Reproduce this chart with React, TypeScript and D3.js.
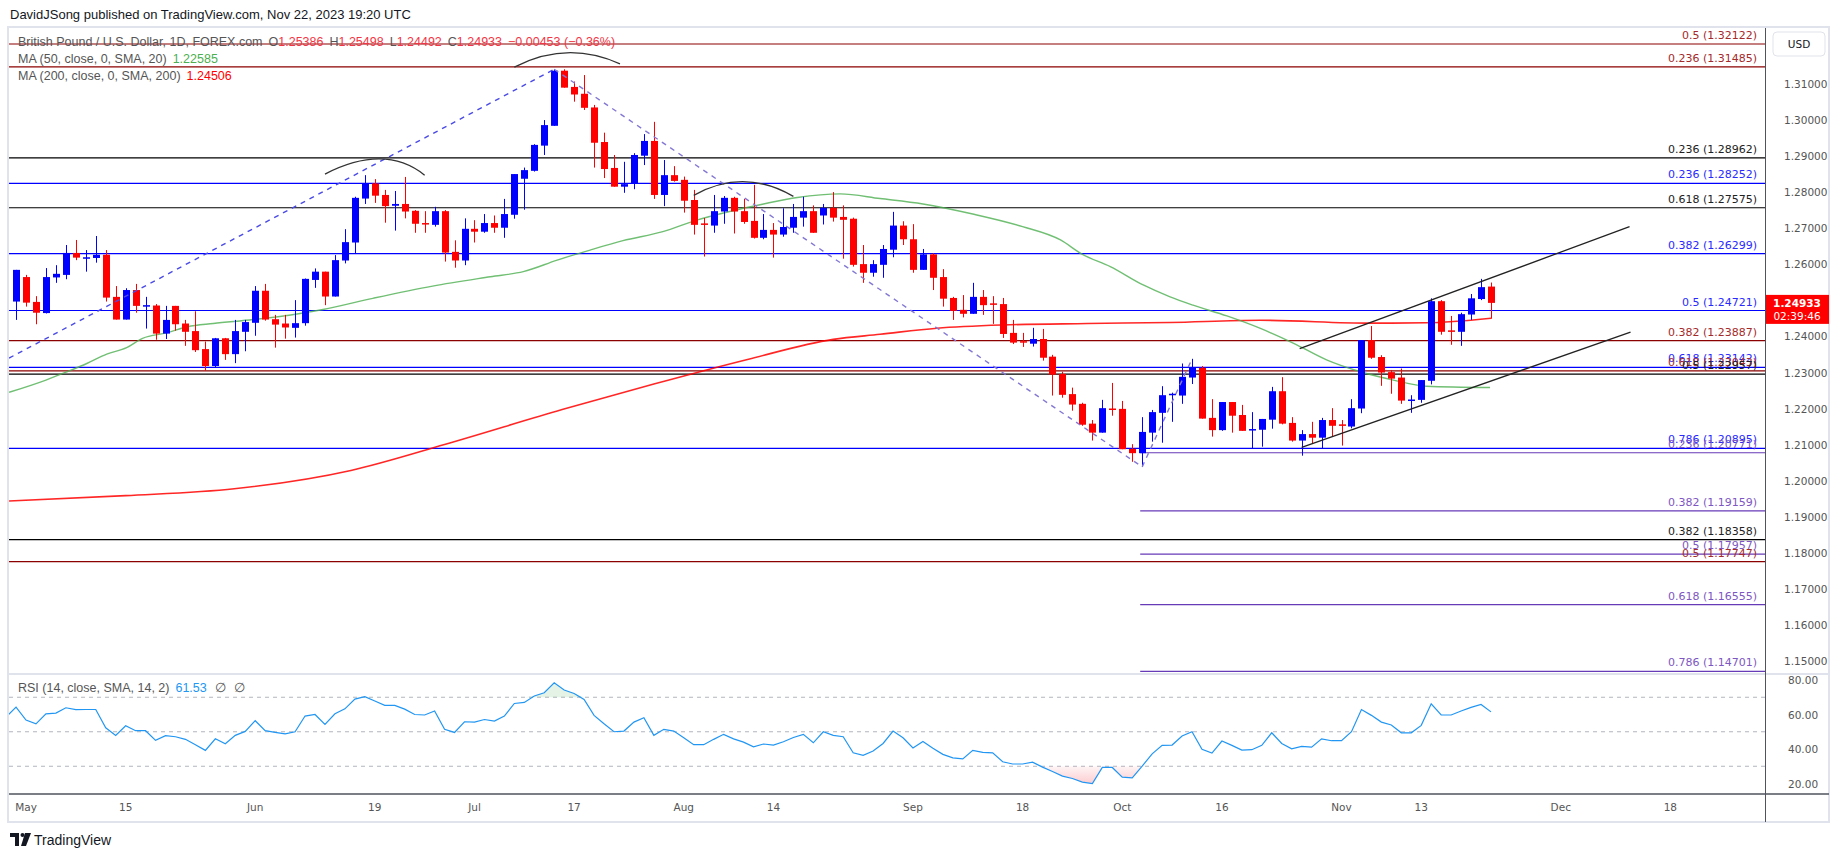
import React from 'react';
import * as d3 from 'd3';

// ---------- DATA ----------
// Daily GBP/USD bars, index -1 = Apr 28 2023 ... index 147 = Nov 22 2023
const firstBarIndex = -1;
const opens = [1.2497,1.2565,1.2496,1.2465,1.2564,1.2571,1.2632,1.2619,1.2618,1.2627,1.2510,1.2447,1.2529,1.2486,1.2486,1.2408,1.2485,1.2436,1.2415,1.2365,1.2318,1.2395,1.2351,1.2413,1.2438,1.2527,1.2448,1.2436,1.2424,1.2437,1.2557,1.2580,1.2511,1.2611,1.2661,1.2783,1.2825,1.2793,1.2763,1.2768,1.2749,1.2715,1.2710,1.2748,1.2635,1.2611,1.2699,1.2691,1.2715,1.2702,1.2738,1.2838,1.2860,1.2930,1.2985,1.3138,1.3093,1.3074,1.3036,1.2940,1.2868,1.2816,1.2825,1.2902,1.2943,1.2793,1.2848,1.2835,1.2779,1.2714,1.2708,1.2747,1.2785,1.2748,1.2721,1.2674,1.2696,1.2683,1.2702,1.2730,1.2748,1.2736,1.2757,1.2732,1.2727,1.2601,1.2577,1.2599,1.2641,1.2708,1.2670,1.2585,1.2628,1.2565,1.2507,1.2474,1.2463,1.2510,1.2492,1.2490,1.2410,1.2387,1.2380,1.2393,1.2344,1.2296,1.2240,1.2213,1.2158,1.2133,1.2200,1.2199,1.2088,1.2076,1.2133,1.2188,1.2237,1.2236,1.2286,1.2313,1.2174,1.2140,1.2218,1.2182,1.2139,1.2141,1.2169,1.2248,1.2160,1.2111,1.2129,1.2119,1.2168,1.2156,1.2150,1.2200,1.2390,1.2343,1.2301,1.2286,1.2222,1.2224,1.2277,1.2498,1.2417,1.2413,1.2461,1.2504,1.25386];
const highs = [1.2585,1.2571,1.2512,1.2590,1.2598,1.2654,1.2668,1.2640,1.2679,1.2640,1.2540,1.2534,1.2546,1.2510,1.2490,1.2485,1.2485,1.2446,1.2470,1.2386,1.2396,1.2396,1.2446,1.2446,1.2540,1.2546,1.2460,1.2460,1.2501,1.2561,1.2589,1.2580,1.2626,1.2698,1.2788,1.2848,1.2837,1.2807,1.2804,1.2843,1.2751,1.2748,1.2760,1.2751,1.2667,1.2728,1.2723,1.2740,1.2736,1.2782,1.2851,1.2869,1.2934,1.3001,1.3142,1.3142,1.3108,1.3126,1.3043,1.2966,1.2904,1.2885,1.2909,1.2962,1.2996,1.2890,1.2873,1.2844,1.2807,1.2729,1.2793,1.2790,1.2788,1.2782,1.2821,1.2740,1.2715,1.2756,1.2768,1.2788,1.2764,1.2768,1.2801,1.2764,1.2730,1.2654,1.2612,1.2654,1.2746,1.2720,1.2712,1.2643,1.2631,1.2587,1.2510,1.2515,1.2549,1.2529,1.2512,1.2507,1.2446,1.2410,1.2424,1.2421,1.2349,1.2302,1.2258,1.2216,1.2168,1.2224,1.2271,1.2221,1.2101,1.2176,1.2196,1.2262,1.2244,1.2325,1.2338,1.2318,1.2226,1.2218,1.2218,1.2210,1.2190,1.2171,1.2260,1.2287,1.2176,1.2140,1.2163,1.2174,1.2201,1.2168,1.2226,1.2390,1.2429,1.2348,1.2307,1.2311,1.2237,1.2279,1.2506,1.2501,1.2457,1.2466,1.2518,1.2560,1.25498];
const lows = [1.2446,1.2483,1.2434,1.2464,1.2549,1.2559,1.2612,1.2580,1.2605,1.2497,1.2447,1.2447,1.2466,1.2422,1.2391,1.2393,1.2416,1.2374,1.2357,1.2305,1.2314,1.2335,1.2326,1.2359,1.2402,1.2444,1.2369,1.2394,1.2397,1.2430,1.2535,1.2487,1.2511,1.2603,1.2629,1.2768,1.2771,1.2716,1.2694,1.2728,1.2688,1.2688,1.2705,1.2608,1.2591,1.2598,1.2661,1.2688,1.2688,1.2674,1.2727,1.2752,1.2858,1.2904,1.2985,1.3091,1.3052,1.3029,1.2869,1.2840,1.2816,1.2799,1.2809,1.2876,1.2782,1.2762,1.2830,1.2744,1.2683,1.2622,1.2688,1.2713,1.2686,1.2713,1.2672,1.2670,1.2619,1.2677,1.2688,1.2705,1.2688,1.2711,1.2719,1.2616,1.2594,1.2549,1.2566,1.2563,1.2620,1.2654,1.2577,1.2585,1.2529,1.2483,1.2446,1.2453,1.2463,1.2460,1.2435,1.2396,1.2379,1.2371,1.2372,1.2333,1.2236,1.2230,1.2194,1.2152,1.2111,1.2133,1.2180,1.2087,1.2052,1.2038,1.2108,1.2105,1.2163,1.2213,1.2268,1.2172,1.2122,1.2138,1.2133,1.2138,1.2089,1.2094,1.2144,1.2156,1.2108,1.2069,1.2103,1.2089,1.2122,1.2097,1.2145,1.2187,1.2338,1.2263,1.2241,1.2213,1.2188,1.2216,1.2267,1.2405,1.2377,1.2374,1.2446,1.2501,1.24492];
const closes = [1.2585,1.2494,1.2466,1.2565,1.2574,1.2632,1.2619,1.2620,1.2627,1.2508,1.2447,1.2529,1.2485,1.2487,1.2408,1.2446,1.2434,1.2413,1.2362,1.2318,1.2395,1.2351,1.2415,1.2440,1.2527,1.2447,1.2433,1.2425,1.2437,1.2560,1.2580,1.2511,1.2612,1.2662,1.2785,1.2825,1.2791,1.2762,1.2768,1.2747,1.2713,1.2711,1.2748,1.2633,1.2611,1.2699,1.2691,1.2715,1.2702,1.2740,1.2851,1.2862,1.2932,1.2987,1.3138,1.3091,1.3072,1.3035,1.2938,1.2865,1.2816,1.2823,1.2904,1.2943,1.2793,1.2848,1.2832,1.2777,1.2710,1.2710,1.2748,1.2785,1.2747,1.2718,1.2674,1.2696,1.2683,1.2704,1.2732,1.2748,1.2688,1.2757,1.2730,1.2724,1.2599,1.2577,1.2601,1.2643,1.2708,1.2670,1.2585,1.2628,1.2563,1.2505,1.2471,1.2463,1.2510,1.2487,1.2488,1.2407,1.2383,1.2384,1.2393,1.2341,1.2294,1.2238,1.2211,1.2155,1.2133,1.2201,1.2197,1.2087,1.2076,1.2135,1.2190,1.2237,1.2241,1.2288,1.2315,1.2172,1.2140,1.2218,1.2180,1.2138,1.2143,1.2171,1.2248,1.2158,1.2111,1.2129,1.2119,1.2168,1.2152,1.2152,1.2201,1.2390,1.2341,1.2300,1.2283,1.2222,1.2225,1.2279,1.2498,1.2413,1.2413,1.2462,1.2506,1.2537,1.24933];

// RSI(14), index -2 ... 147
const rsiFirstIndex = -2;
const rsiValues = [58.5,64.3,56.8,54.6,60.4,60.8,63.9,62.8,62.9,62.9,52.3,47.9,53.5,50.6,50.6,45.0,47.7,47.1,45.6,42.5,39.2,45.9,43.0,47.9,50.2,56.4,50.6,49.6,48.8,50.0,59.1,60.0,54.3,60.4,63.3,68.9,70.3,67.8,65.3,65.3,63.1,60.0,59.7,62.0,51.4,49.6,55.8,55.6,57.1,56.2,59.1,66.4,67.0,70.7,72.6,78.4,74.2,72.2,68.7,59.5,54.6,50.0,50.4,55.6,58.1,47.9,51.4,50.4,46.5,42.5,42.5,45.6,48.5,45.9,44.0,41.3,42.9,42.3,44.2,46.7,48.5,43.6,50.0,47.9,47.1,37.8,36.3,38.8,43.2,50.4,46.5,40.6,44.4,40.5,36.9,34.9,34.3,39.2,38.0,37.8,32.6,31.3,31.3,32.4,29.5,27.0,24.3,22.9,20.8,20.0,29.3,29.3,23.7,23.3,30.1,37.2,42.1,42.3,47.5,50.0,39.8,37.6,44.6,42.1,39.4,39.6,42.1,49.4,43.2,40.1,41.5,41.1,45.9,44.8,44.8,50.0,62.9,59.5,55.6,53.9,49.4,49.4,53.7,66.2,59.7,59.7,62.0,64.1,65.8,61.53];

// Moving averages read at bar positions
const ma50Index = [-1.7,2,4.1,6.1,8.1,10.1,11.7,14.1,16.2,18.8,22.8,27.5,29.8,34.8,40.8,46.6,49.9,53.3,56.6,59.9,63.9,67.3,70.6,74,77.4,81.7,85.7,90,95,100,103.8,106,108.8,112.1,114.8,117.1,120.5,123.8,127.2,130.5,133.9,137.2,140.5,146.9];
const ma50Values = [1.2245,1.2279,1.2302,1.2325,1.2351,1.2369,1.2395,1.2410,1.2427,1.2436,1.2447,1.2464,1.2475,1.2506,1.2540,1.2566,1.2580,1.2612,1.2640,1.2666,1.2691,1.2723,1.2747,1.2768,1.2786,1.2796,1.2783,1.2768,1.2740,1.2705,1.2668,1.2628,1.2594,1.2543,1.2510,1.2487,1.2457,1.2423,1.2381,1.2335,1.2302,1.2279,1.2262,1.22585];
const ma200Index = [-1.7,10,20.9,32.6,42,53.8,63,72.5,81,85.7,91.4,98,106.5,114.8,123.8,134.9,140.5,147];
const ma200Values = [1.1943,1.1958,1.1977,1.2028,1.2100,1.2197,1.2268,1.2337,1.2392,1.2406,1.2423,1.2432,1.2436,1.2439,1.2445,1.2437,1.2438,1.24506];

// Fibonacci / horizontal levels
const fibPrices = [1.32122,1.31485,1.28962,1.28252,1.27575,1.26299,1.24721,1.23887,1.23142,1.23043,1.22957,1.20895,1.18358,1.17747,1.20771,1.19159,1.17957,1.16555,1.14701];
const fibRatios = ['0.5','0.236','0.236','0.236','0.618','0.382','0.5','0.382','0.618','0.618','0.5','0.786','0.382','0.5','0.236','0.382','0.5','0.618','0.786'];
const fibGroups = ['red','red','black','blue','black','blue','blue','red','blue','red','black','blue','black','red','purple','purple','purple','purple','purple'];
const fibStartIndex = [null,null,null,null,null,null,null,null,null,null,null,null,null,null,111.8,111.8,111.8,111.8,111.8];

// Drawings: [startIndex, startPrice, endIndex, endPrice]
const riseDashed = [-1.7, 1.2340, 53, 1.3142];
const fallDashed = [53, 1.3142, 112, 1.2038];
const reboundDashed = [112, 1.2038, 117, 1.2338];
const channelUpper = [127.8, 1.2366, 160.9, 1.2705];
const channelLower = [128, 1.2092, 161, 1.2412];
// arcs: start, peak, end (index, price)
const arcs = [
  [30.0, 1.2851, 35.5, 1.2893, 40.0, 1.2848],
  [49.0, 1.3148, 54.3, 1.3188, 59.6, 1.3157],
  [67.0, 1.2792, 72.0, 1.2830, 77.0, 1.2789],
];

const xTickIndex = [0,10,23,35,45,55,66,75,89,100,110,120,132,140,154,165];
const xTickLabels = ['May','15','Jun','19','Jul','17','Aug','14','Sep','18','Oct','16','Nov','13','Dec','18'];
const priceTicks = [1.15,1.16,1.17,1.18,1.19,1.20,1.21,1.22,1.23,1.24,1.25,1.26,1.27,1.28,1.29,1.30,1.31];
const rsiTicks = [20,40,60,80];
const rsiGuides = [70,50,30];

const lastPrice = 1.24933;

// ---------- STYLE ----------
const FONT = "'Liberation Sans', Arial, sans-serif";
const LFONT = "'DejaVu Sans', Verdana, sans-serif";
const groupLine: Record<string, string> = { red: '#8b0000', black: '#000000', blue: '#0000ff', purple: '#673ab7' };
const groupText: Record<string, string> = { red: '#a52a2a', black: '#222222', blue: '#2a2aff', purple: '#7e57c2' };
const UP = '#0000ff';
const DOWN = '#ff0000';

export default function App() {
  const paneL = 9, paneR = 1765, paneT = 28, paneB = 673;
  const rsiT = 675, rsiB = 793;
  const x = d3.scaleLinear().domain([0, 165]).range([26, 26 + 165 * 9.966]);
  const y = d3.scaleLinear().domain([1.15, 1.31]).range([660.6, 84.4]);
  const yr = d3.scaleLinear().domain([20, 80]).range([783.5, 680]);

  const bars = closes.map((c, k) => ({ i: firstBarIndex + k, o: opens[k], h: highs[k], l: lows[k], c }));
  const rsi = rsiValues.map((v, k) => ({ i: rsiFirstIndex + k, v }));

  const maLine = d3.line<[number, number]>().x(d => x(d[0])).y(d => y(d[1])).curve(d3.curveMonotoneX);
  const ma50 = ma50Index.map((i, k) => [i, ma50Values[k]] as [number, number]);
  const ma200 = ma200Index.map((i, k) => [i, ma200Values[k]] as [number, number]);

  const rsiLine = d3.line<{ i: number; v: number }>().x(d => x(d.i)).y(d => yr(d.v));
  const obArea = d3.area<{ i: number; v: number }>().x(d => x(d.i)).y0(yr(70)).y1(d => yr(Math.max(70, d.v)));
  const osArea = d3.area<{ i: number; v: number }>().x(d => x(d.i)).y0(yr(30)).y1(d => yr(Math.min(30, d.v)));

  const seg = (s: number[]) => ({ x1: x(s[0]), y1: y(s[1]), x2: x(s[2]), y2: y(s[3]) });
  const arcPath = (a: number[]) => {
    const x0 = x(a[0]), y0 = y(a[1]), xp = x(a[2]), yp = y(a[3]), x1 = x(a[4]), y1 = y(a[5]);
    const cx = 2 * xp - (x0 + x1) / 2, cy = 2 * yp - (y0 + y1) / 2;
    return `M${x0},${y0} Q${cx},${cy} ${x1},${y1}`;
  };

  const bw = 7;

  return (
    <svg width={1835} height={857} style={{ position: 'absolute', left: 0, top: 0, background: '#fff' }}>
      <defs>
        <clipPath id="mainClip"><rect x={paneL} y={paneT} width={paneR - paneL} height={paneB - paneT} /></clipPath>
        <clipPath id="rsiClip"><rect x={paneL} y={rsiT} width={paneR - paneL} height={rsiB - rsiT} /></clipPath>
        <linearGradient id="osGrad" x1="0" y1="0" x2="0" y2="1">
          <stop offset="0%" stopColor="#f23645" stopOpacity={0.05} />
          <stop offset="100%" stopColor="#f23645" stopOpacity={0.25} />
        </linearGradient>
      </defs>
      <rect x={0} y={0} width={1835} height={857} fill="#ffffff" />

      {/* header */}
      <text x={10} y={19} fontFamily={FONT} fontSize={13} fill="#131722">DavidJSong published on TradingView.com, Nov 22, 2023 19:20 UTC</text>

      {/* frame */}
      <rect x={8} y={27} width={1821} height={795} fill="none" stroke="#e0e3eb" strokeWidth={2} />

      {/* main pane */}
      <g clipPath="url(#mainClip)">
        {fibPrices.map((p, k) => (
          <line key={'f' + k} x1={fibStartIndex[k] === null ? paneL : x(fibStartIndex[k] as number)} x2={paneR}
            y1={y(p)} y2={y(p)} stroke={groupLine[fibGroups[k]]} strokeWidth={1.2} />
        ))}
        <path d={maLine(ma200) || ''} fill="none" stroke="#ff0000" strokeOpacity={0.85} strokeWidth={1.6} />
        <path d={maLine(ma50) || ''} fill="none" stroke="#4caf50" strokeOpacity={0.8} strokeWidth={1.4} />

        {bars.map(b => {
          const col = b.c >= b.o ? UP : DOWN;
          const top = y(Math.max(b.o, b.c));
          const bot = y(Math.min(b.o, b.c));
          const cx = Math.round(x(b.i)) + 0.5;
          return (
            <g key={'b' + b.i}>
              <line x1={cx} x2={cx} y1={y(b.h)} y2={y(b.l)} stroke={col} strokeWidth={1} />
              <rect x={cx - bw / 2} y={top} width={bw} height={Math.max(1.5, bot - top)} fill={col} />
            </g>
          );
        })}

        {[riseDashed].map((s, k) => { const L = seg(s); return <line key={'rd' + k} {...L} stroke="#4a4ae6" strokeWidth={1.4} strokeDasharray="5 5" />; })}
        {[fallDashed, reboundDashed].map((s, k) => { const L = seg(s); return <line key={'fd' + k} {...L} stroke="#8377d4" strokeWidth={1.4} strokeDasharray="5 5" />; })}
        {[channelUpper, channelLower].map((s, k) => { const L = seg(s); return <line key={'ch' + k} {...L} stroke="#222" strokeWidth={1.3} />; })}
        {arcs.map((a, k) => <path key={'a' + k} d={arcPath(a)} fill="none" stroke="#333" strokeWidth={1.3} />)}

        {fibPrices.map((p, k) => (
          <text key={'ft' + k} x={1757} y={y(p) - 5} textAnchor="end" fontFamily={LFONT} fontSize={11}
            fill={groupText[fibGroups[k]]}>{`${fibRatios[k]} (${p.toFixed(5)})`}</text>
        ))}
      </g>

      {/* legend */}
      <text x={18} y={46} fontFamily={FONT} fontSize={12.5} fill="#555">
        British Pound / U.S. Dollar, 1D, FOREX.com
        <tspan dx={6}>O</tspan><tspan fill="#f23645">{opens[opens.length - 1].toFixed(5)}</tspan>
        <tspan dx={6}>H</tspan><tspan fill="#f23645">{highs[highs.length - 1].toFixed(5)}</tspan>
        <tspan dx={6}>L</tspan><tspan fill="#f23645">{lows[lows.length - 1].toFixed(5)}</tspan>
        <tspan dx={6}>C</tspan><tspan fill="#f23645">{closes[closes.length - 1].toFixed(5)}</tspan>
        <tspan dx={6} fill="#f23645">−0.00453 (−0.36%)</tspan>
      </text>
      <text x={18} y={63} fontFamily={FONT} fontSize={12.5} fill="#555">
        MA (50, close, 0, SMA, 20)<tspan dx={6} fill="#4caf50">{ma50Values[ma50Values.length - 1].toFixed(5)}</tspan>
      </text>
      <text x={18} y={80} fontFamily={FONT} fontSize={12.5} fill="#555">
        MA (200, close, 0, SMA, 200)<tspan dx={6} fill="#ff0000">{ma200Values[ma200Values.length - 1].toFixed(5)}</tspan>
      </text>

      {/* pane separator */}
      <line x1={paneL} x2={1829} y1={674} y2={674} stroke="#e0e3eb" strokeWidth={2} />

      {/* RSI pane */}
      <g clipPath="url(#rsiClip)">
        {rsiGuides.map(g => (
          <line key={'g' + g} x1={paneL} x2={paneR} y1={yr(g)} y2={yr(g)} stroke="#b2b5be" strokeWidth={1} strokeDasharray="4 4" />
        ))}
        <path d={obArea(rsi) || ''} fill="#4caf50" fillOpacity={0.15} />
        <path d={osArea(rsi) || ''} fill="url(#osGrad)" />
        <path d={rsiLine(rsi) || ''} fill="none" stroke="#2196f3" strokeWidth={1.2} />
      </g>
      <text x={18} y={692} fontFamily={FONT} fontSize={12.5} fill="#555">
        RSI (14, close, SMA, 14, 2)<tspan dx={6} fill="#2196f3">{rsiValues[rsiValues.length - 1].toFixed(2)}</tspan>
        <tspan dx={8}>∅</tspan><tspan dx={8}>∅</tspan>
      </text>

      {/* axes */}
      <line x1={paneR + 0.5} x2={paneR + 0.5} y1={paneT} y2={822} stroke="#50535e" strokeWidth={1} />
      <line x1={paneL} x2={1829} y1={794} y2={794} stroke="#50535e" strokeWidth={1.5} />
      {priceTicks.map(p => (
        <text key={'pt' + p} x={1784} y={y(p) + 4} fontFamily={LFONT} fontSize={10.5} fill="#555">{p.toFixed(5)}</text>
      ))}
      {rsiTicks.map(v => (
        <text key={'rt' + v} x={1788} y={yr(v) + 4} fontFamily={LFONT} fontSize={10.5} fill="#555">{v.toFixed(2)}</text>
      ))}
      {xTickIndex.map((i, k) => (
        <text key={'xt' + k} x={x(i)} y={811} textAnchor="middle" fontFamily={LFONT} fontSize={10.5} fill="#555">{xTickLabels[k]}</text>
      ))}

      {/* USD box */}
      <rect x={1773} y={32} width={52} height={24} rx={4} fill="#fff" stroke="#e0e3eb" strokeWidth={1} />
      <text x={1799} y={48} textAnchor="middle" fontFamily={LFONT} fontSize={10.5} fill="#131722">USD</text>

      {/* last price label */}
      <rect x={paneR + 1} y={y(lastPrice) - 8} width={63} height={29} fill="#ff0000" />
      <text x={1797} y={y(lastPrice) + 4} textAnchor="middle" fontFamily={LFONT} fontSize={10.5} fontWeight="bold" fill="#fff">{lastPrice.toFixed(5)}</text>
      <text x={1797} y={y(lastPrice) + 17} textAnchor="middle" fontFamily={LFONT} fontSize={10.5} fill="#fff">02:39:46</text>

      {/* TradingView logo */}
      <path d="M10 833 h9 v13 h-4 v-9 h-5 z" fill="#131722" />
      <circle cx={22.5} cy={835} r={2} fill="#131722" />
      <path d="M25 833 h6 l-5 13 h-5 z" fill="#131722" />
      <text x={34} y={845} fontFamily={FONT} fontSize={14} fill="#131722">TradingView</text>
    </svg>
  );
}
